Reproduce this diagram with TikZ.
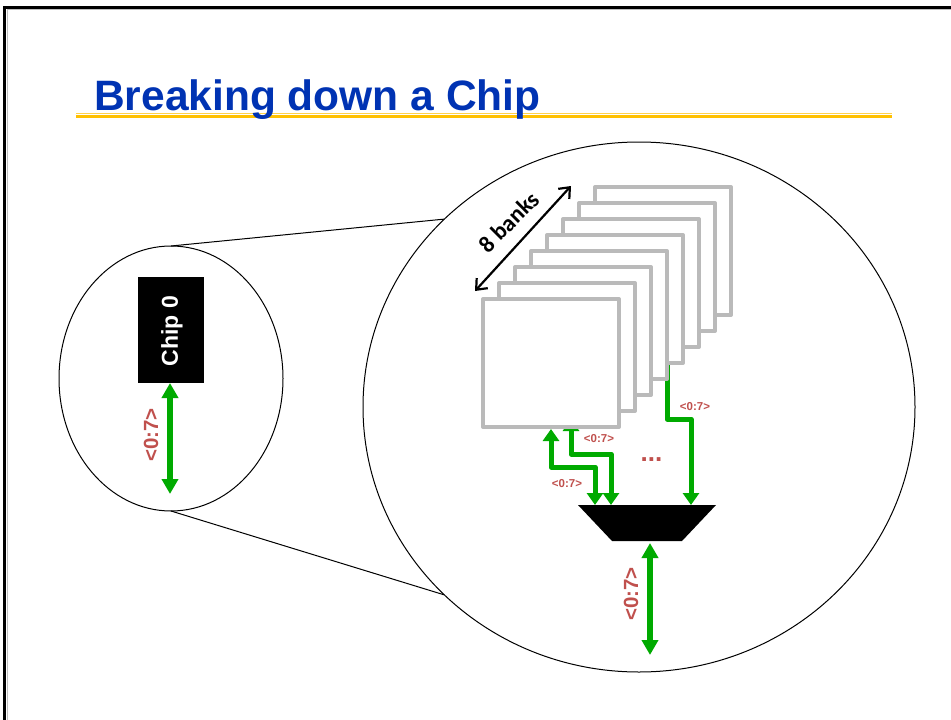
\documentclass[tikz,border=0pt]{standalone}
\usepackage{fontspec}
\setmainfont{Liberation Sans}
\newfontfamily\carlito{Carlito}
\usetikzlibrary{arrows.meta,shapes.geometric}
\definecolor{titleblue}{HTML}{0033B3}
\definecolor{rulegold}{HTML}{FFC000}
\definecolor{wiregreen}{HTML}{00AA00}
\definecolor{labelred}{HTML}{C0504D}
\definecolor{bankgray}{HTML}{BABABA}
\tikzset{
  bankbox/.style={draw=bankgray,line width=4pt,fill=white,minimum width=136pt,minimum height=128pt,outer sep=0pt,inner sep=0pt,line join=round},
  lens/.style={draw=black,line width=1pt,ellipse,fill=white,outer sep=0pt,inner sep=0pt},
  zoomline/.style={draw=black,line width=1pt},
  wire/.style={draw=wiregreen,line width=5pt,line join=round},
  wirehead/.style={-{Triangle[width=16pt,length=12pt]}},
  wiretwo/.style={{Triangle[width=16pt,length=12pt]}-{Triangle[width=16pt,length=12pt]}},
  busline/.style={draw=wiregreen,line width=6pt,{Triangle[width=16pt,length=15pt]}-{Triangle[width=16pt,length=15pt]}},
  smalllabel/.style={text=labelred,font=\bfseries\fontsize{11.5pt}{14pt}\selectfont,inner sep=0pt},
  biglabel/.style={text=labelred,font=\bfseries\fontsize{20.5pt}{24pt}\selectfont,inner sep=0pt,rotate=90},
}
\begin{document}
\begin{tikzpicture}[x=1pt,y=-1pt]
\useasboundingbox (0,0) rectangle (951,720);
\fill[white] (0,0) rectangle (951,720);
% slide frame
\draw[black!25,line width=0.8pt] (7,720) -- (7,9.5) -- (951,9.5);
\draw[black,line width=3pt,line join=miter] (4.5,720) -- (4.5,7.5) -- (951,7.5);
% title rule
\fill[rulegold!70] (76,113) rectangle (892,114);
\fill[rulegold] (76,115) rectangle (892,118);
\node[anchor=base west,inner sep=0pt,text=titleblue,font=\bfseries\fontsize{42.5pt}{48pt}\selectfont] (title) at (94,110) {Breaking down a Chip};
% lenses
\node[lens,minimum width=224pt,minimum height=265pt] (small) at (171,378.5) {};
\node[lens,minimum width=552pt,minimum height=530pt] (big) at (639,407) {};
\draw[zoomline] (small.north) -- (big.136);
\draw[zoomline] (small.south) -- (big.224);
% chip
\node[fill=black,minimum width=66pt,minimum height=106pt,inner sep=0pt,outer sep=0pt] (chip) at (171,330) {};
\node[rotate=90,text=white,font=\bfseries\fontsize{23pt}{27pt}\selectfont,inner sep=0pt] (chiplabel) at (172,331) {Chip 0};
\coordinate (smallend) at (170,494);
\draw[busline] (chip.south -| smallend) -- (smallend);
\node[biglabel] (smalltag) at (151,435) {<0:7>};
% mux
\coordinate (muxtl) at (578,505);
\coordinate (muxtr) at (716,505);
\coordinate (muxbr) at (682,541);
\coordinate (muxbl) at (612,541);
\fill[black] (muxtl) -- (muxtr) -- (muxbr) -- (muxbl) -- cycle;
% wires
\coordinate (farstart) at (667,355);
\coordinate (farmid) at (691,419);
\coordinate (farend) at (691,505);
\coordinate (midstart) at (571,419);
\coordinate (midturn) at (611,454);
\coordinate (midend) at (611,505);
\coordinate (neartip) at (551,429);
\coordinate (nearturn) at (595,467);
\coordinate (nearend) at (595,505);
\draw[wire,wirehead] (farstart) |- (farmid) -- (farend);
\draw[wire,wiretwo] (midstart) |- (midturn) -- (midend);
% banks
\foreach \k/\off in {8/112,7/96,6/80,5/64,4/48,3/32,2/16,1/0}
  \node[bankbox] (bank\k) at (551+\off,363-\off) {};
\draw[wire,wiretwo] (neartip) |- (nearturn) -- (nearend);
% bottom bus
\coordinate (busstart) at (650,543);
\coordinate (busend) at (650,655);
\draw[busline] (busstart) -- (busend);
\node[biglabel] (bustag) at (631,594) {<0:7>};
% bank labels
\node[smalllabel] (tagfar) at (695,407) {<0:7>};
\node[smalllabel] (tagmid) at (599,439) {<0:7>};
\node[smalllabel] (tagnear) at (567,484) {<0:7>};
\node[anchor=base,text=labelred,font=\bfseries\fontsize{26pt}{28pt}\selectfont,inner sep=0pt] (dots) at (651.5,461) {...};
% 8 banks
\coordinate (spanA) at (475,291);
\coordinate (spanB) at (571,186);
\draw[black,line width=2.2pt,{Straight Barb[length=9pt,width=15pt,line width=2.2pt]}-{Straight Barb[length=9pt,width=15pt,line width=2.2pt]}] (spanA) -- (spanB);
\node[rotate=45,font=\carlito\bfseries\fontsize{23.5pt}{26pt}\selectfont,inner sep=0pt] (spanlabel) at (509,222) {8 banks};
\end{tikzpicture}
\end{document}
